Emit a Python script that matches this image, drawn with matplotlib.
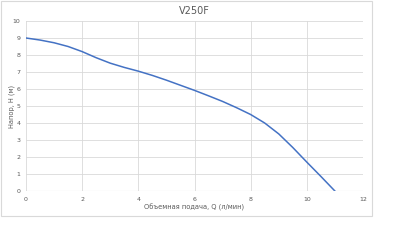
import matplotlib.pyplot as plt
from matplotlib.patches import Rectangle

q = [0, 0.5, 1, 1.5, 2, 2.5, 3, 3.5, 4, 4.5, 5, 5.5, 6, 6.5, 7, 7.5, 8, 8.5, 9, 9.5, 10, 10.5, 11]
h = [9.0, 8.88, 8.72, 8.5, 8.2, 7.84, 7.52, 7.27, 7.05, 6.8, 6.52, 6.22, 5.92, 5.6, 5.27, 4.9,
     4.5, 4.0, 3.36, 2.56, 1.7, 0.86, 0.0]
x_ticks = [0, 2, 4, 6, 8, 10, 12]
y_ticks = list(range(0, 11))

fig = plt.figure(figsize=(4, 2.4), dpi=100)
fig.patch.set_facecolor("white")
fig.patches.append(Rectangle((0.003, 0.1), 0.927, 0.894, transform=fig.transFigure,
                             fill=False, edgecolor="#d9d9d9", linewidth=0.8))

ax = fig.add_axes([0.065, 0.204, 0.8425, 0.7085])
ax.plot(q, h, color="#4472C4", linewidth=1.1, solid_joinstyle="round")

ax.set_xlim(0, 12)
ax.set_ylim(0, 10)
ax.set_xticks(x_ticks)
ax.set_yticks(y_ticks)
ax.tick_params(labelsize=4.5, colors="#595959", length=0, pad=4)
ax.grid(color="#d9d9d9", linewidth=0.6)
for s in ax.spines.values():
    s.set_visible(False)
ax.axhline(0, color="#d9d9d9", linewidth=0.8)

ax.set_title("V250F", fontsize=7, color="#595959", pad=5)
ax.set_xlabel("Объемная подача, Q (л/мин)", fontsize=4.8, color="#595959")
ax.set_ylabel("Напор, H (м)", fontsize=4.8, color="#595959")
ax.xaxis.set_label_coords(0.5, -0.074)
ax.yaxis.set_label_coords(-0.034, 0.5)

fig.savefig("out.png", dpi=100)
